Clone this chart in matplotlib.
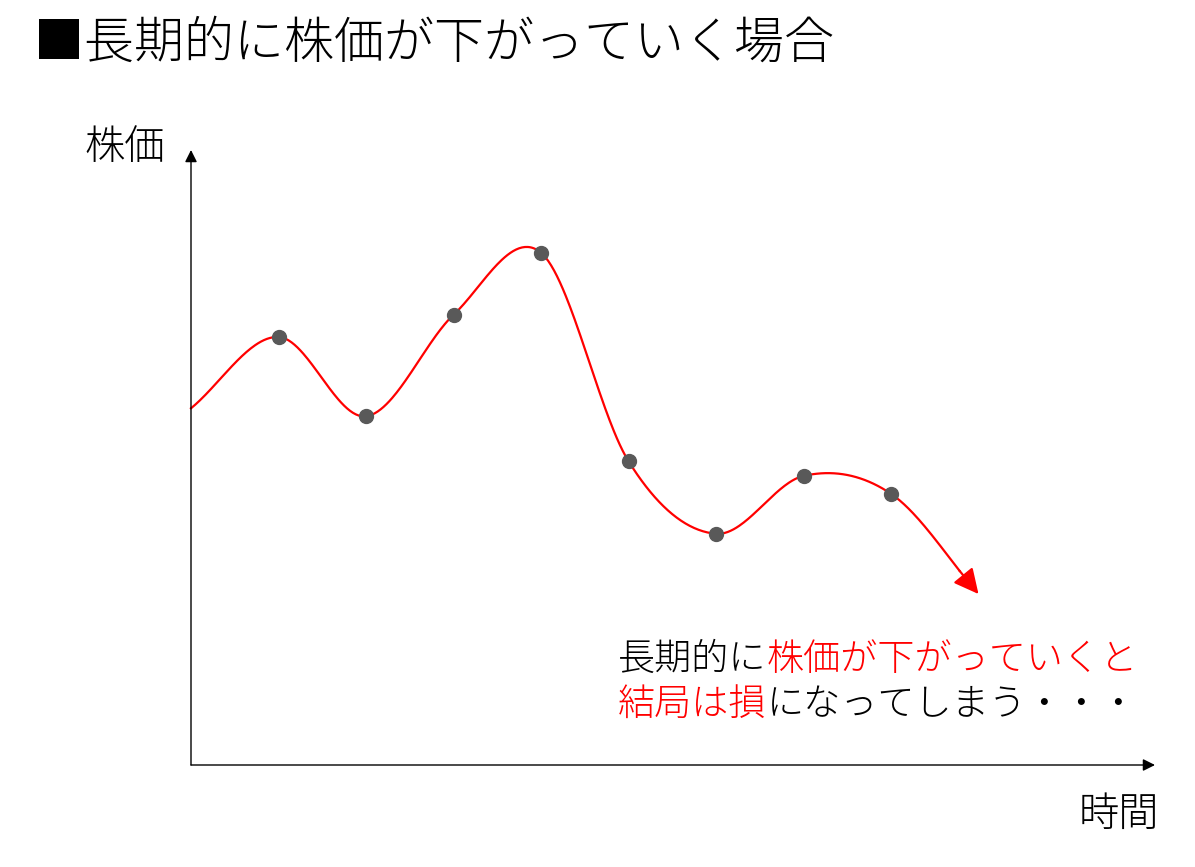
import numpy as np
import matplotlib
matplotlib.use("Agg")
import matplotlib.pyplot as plt

plt.rcParams['font.family'] = ['Noto Sans CJK JP', 'DejaVu Sans']
plt.rcParams['font.weight'] = 'light'

W, H = 1195, 867
dpi = 100

# data: time steps and stock price (0-100 of axis height)
t_pts = [1, 2, 3, 4, 5, 6, 7, 8]
price_pts = [69.6, 56.7, 73.2, 83.3, 49.4, 37.6, 47.0, 44.1]
t_start, price_start = 0, 58.0
t_end, price_end = 9, 27.8

title = "■長期的に株価が下がっていく場合"
ylabel = "株価"
xlabel = "時間"
note1 = [("長期的に", "black"), ("株価が下がっていくと", "red")]
note2 = [("結局は損", "red"), ("になってしまう・・・", "black")]


def catmull_rom(x, y, n=60):
	# smoothed line like an office chart (uniform spacing)
	x = np.asarray(x, float)
	y = np.asarray(y, float)
	N = len(x)
	m = np.zeros(N)
	m[1:-1] = (y[2:] - y[:-2]) / (x[2:] - x[:-2])
	m[0] = (y[1] - y[0]) / (x[1] - x[0])
	m[-1] = (y[-1] - y[-2]) / (x[-1] - x[-2])
	xs, ys = [], []
	for i in range(N - 1):
		h = x[i + 1] - x[i]
		s = np.linspace(0, 1, n, endpoint=False)
		h00 = 2*s**3 - 3*s**2 + 1
		h10 = s**3 - 2*s**2 + s
		h01 = -2*s**3 + 3*s**2
		h11 = s**3 - s**2
		xs.append(x[i] + s*h)
		ys.append(h00*y[i] + h10*h*m[i] + h01*y[i+1] + h11*h*m[i+1])
	xs.append([x[-1]])
	ys.append([y[-1]])
	return np.concatenate(xs), np.concatenate(ys)


fig = plt.figure(figsize=(W / dpi, H / dpi), dpi=dpi)
ax = fig.add_axes([191 / W, 1 - 765 / H, (1155 - 191) / W, 615 / H])
ax.set_xlim(0, (1155 - 191) / 87.5)
ax.set_ylim(0, 100)
ax.axis('off')

# axes arrows
ax.annotate('', xy=(0, 100), xytext=(0, 0), annotation_clip=False,
	arrowprops=dict(arrowstyle='-|>', color='black', lw=1.0, mutation_scale=18, shrinkA=0, shrinkB=0))
ax.annotate('', xy=(ax.get_xlim()[1], 0), xytext=(0, 0), annotation_clip=False,
	arrowprops=dict(arrowstyle='-|>', color='black', lw=1.0, mutation_scale=18, shrinkA=0, shrinkB=0))

# smooth red curve
tx = [t_start] + t_pts + [t_end]
py = [price_start] + price_pts + [price_end]
xs, ys = catmull_rom(tx, py)
cut = len(xs) - 14
ax.plot(xs[:cut + 1], ys[:cut + 1], color='red', lw=1.6, clip_on=False, zorder=2)
ax.annotate('', xy=(xs[-1], ys[-1]), xytext=(xs[cut], ys[cut]), annotation_clip=False,
	arrowprops=dict(arrowstyle='-|>', color='red', lw=1.6, mutation_scale=38, shrinkA=0, shrinkB=0))

ax.plot(t_pts, price_pts, 'o', color='#595959', ms=10, zorder=3, clip_on=False)

# texts
def px(x, y):
	return x / W, 1 - y / H

fig.text(*px(34, 44), title, fontsize=36, va='center', ha='left')
fig.text(*px(84, 148), ylabel, fontsize=29, va='center', ha='left')
fig.text(*px(1079, 815), xlabel, fontsize=29, va='center', ha='left')

def chain(x, y, parts, fs=26.7):
	prev = fig.text(*px(x, y), parts[0][0], color=parts[0][1], fontsize=fs, va='center', ha='left')
	for s, c in parts[1:]:
		prev = ax.annotate(s, xy=(1, 0.5), xycoords=prev, color=c, fontsize=fs,
			va='center', ha='left', annotation_clip=False)

chain(618, 660, note1)
chain(618, 705, note2)

fig.savefig('out.png', dpi=dpi)
